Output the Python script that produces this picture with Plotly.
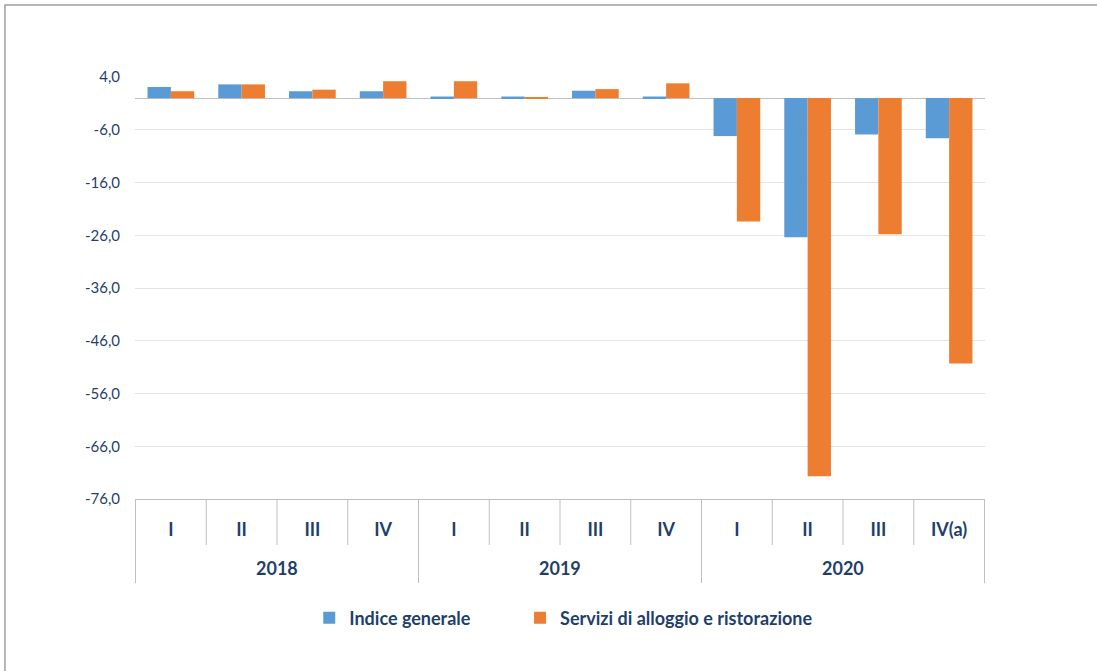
import plotly.graph_objects as go

years = ["2018"] * 4 + ["2019"] * 4 + ["2020"] * 4
quarters = ["I", "II", "III", "IV", "I", "II", "III", "IV", "I", "II", "III", "IV(a)"]
indice_generale = [2.1, 2.6, 1.3, 1.3, 0.3, 0.3, 1.4, 0.3, -7.2, -26.4, -6.9, -7.6]
alloggio_ristorazione = [1.3, 2.6, 1.6, 3.2, 3.2, 0.2, 1.7, 2.8, -23.4, -71.7, -25.8, -50.3]
y_ticks = [4, -6, -16, -26, -36, -46, -56, -66, -76]
y_labels = ["4,0", "-6,0", "-16,0", "-26,0", "-36,0", "-46,0", "-56,0", "-66,0", "-76,0"]

text_color = "#1F3F6B"
line_color = "#BFBFBF"
font_family = "Lato, 'Open Sans', sans-serif"
legend_font = dict(size=18, color=text_color, family=font_family, weight="bold")

# unique category keys, quarter shown as tick text
keys = [y + " " + q for y, q in zip(years, quarters)]

fig = go.Figure()
fig.add_bar(x=keys, y=indice_generale, name="Indice generale",
            marker_color="#5B9BD5", marker_line_width=0, legend="legend")
fig.add_bar(x=keys, y=alloggio_ristorazione, name="Servizi di alloggio e ristorazione",
            marker_color="#ED7D31", marker_line_width=0, legend="legend2")

fig.update_layout(
    width=1097, height=671,
    margin=dict(l=135, r=112, t=77, b=172),
    paper_bgcolor="white", plot_bgcolor="white",
    barmode="group", bargap=0.34, bargroupgap=0,
    font=dict(family=font_family, color=text_color, size=14),
    legend=dict(orientation="h", x=0.205, xanchor="left", y=-0.282, yanchor="middle",
                font=legend_font, itemwidth=30),
    legend2=dict(orientation="h", x=0.453, xanchor="left", y=-0.282, yanchor="middle",
                 font=legend_font, itemwidth=30),
    showlegend=True,
)
fig.update_yaxes(range=[-76, 4], tickvals=y_ticks, ticktext=y_labels,
                 showgrid=True, gridcolor="#E3E3E3", gridwidth=1,
                 zeroline=True, zerolinecolor=line_color, zerolinewidth=1,
                 showline=False, ticks="", ticklabelstandoff=14,
                 tickfont=dict(size=15, color=text_color))
fig.update_xaxes(type="category", tickvals=keys, ticktext=quarters,
                 showline=True, linecolor=line_color, ticks="", ticklabelstandoff=14,
                 tickfont=dict(size=18, color=text_color, family=font_family, weight="bold"))

# separators of the category table below the plot
for i in range(len(keys) + 1):
    bound = i - 0.5
    is_year_edge = i == 0 or i == len(keys) or years[i] != years[i - 1]
    fig.add_shape(type="line", xref="x", yref="paper", x0=bound, x1=bound,
                  y0=0, y1=-0.199 if is_year_edge else -0.109,
                  line=dict(color=line_color, width=1))

# year labels centred under their quarters
for yr in dict.fromkeys(years):
    idx = [i for i, v in enumerate(years) if v == yr]
    fig.add_annotation(x=sum(idx) / len(idx), xref="x", y=-0.1635, yref="paper",
                       text=yr, showarrow=False, yanchor="middle",
                       font=dict(size=18, color=text_color, family=font_family, weight="bold"))

# outer frame of the chart
fig.add_shape(type="rect", xref="paper", yref="paper",
              x0=-0.153, x1=1.3, y0=-0.5, y1=1.1706,
              line=dict(color="#A0A0A0", width=1.5), layer="below")

fig.write_html("out.html", config={"displayModeBar": False},
               post_script="document.body.style.margin='0';")
